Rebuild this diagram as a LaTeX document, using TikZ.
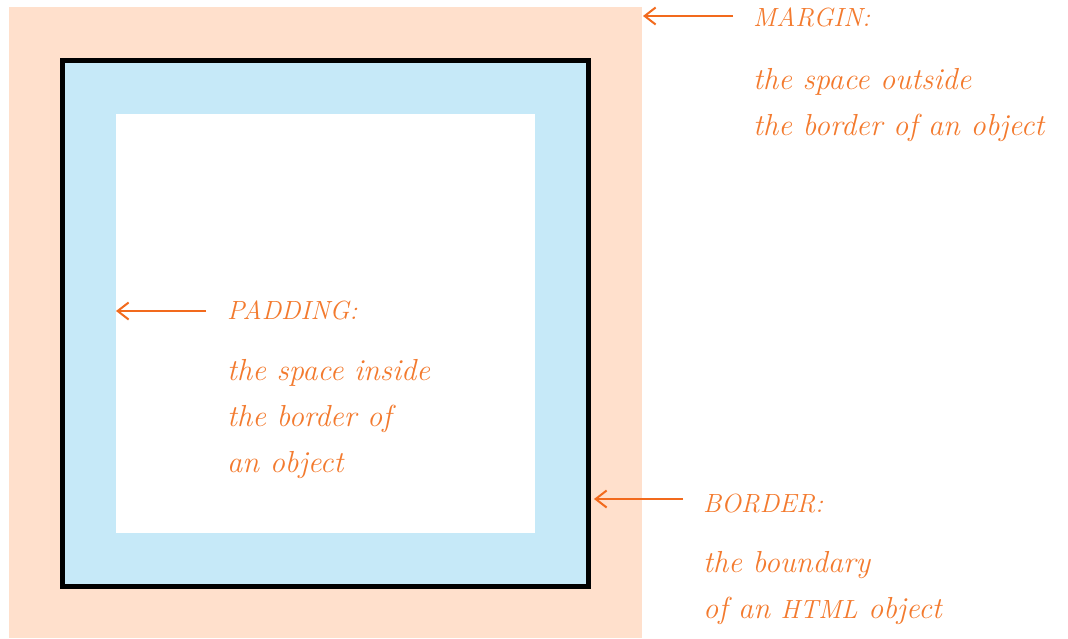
\documentclass[tikz,border=0pt]{standalone}
\usetikzlibrary{arrows.meta}
\definecolor{marginfill}{HTML}{FFE0CC}
\definecolor{paddingfill}{HTML}{C6E9F8}
\definecolor{notetext}{HTML}{F37A2E}
\definecolor{notearrow}{HTML}{F26A1D}
\tikzset{
  body/.style={anchor=base west, inner sep=0pt, text=notetext,
    font=\fontsize{30.4}{46}\selectfont\itshape},
  head/.style={anchor=base west, inner sep=0pt, text=notetext,
    font=\fontsize{26.3}{46}\selectfont\itshape},
  pointer/.style={draw=notearrow, line width=2pt,
    -{Straight Barb[length=11pt,width=17pt,line width=2pt]}}
}
\begin{document}
\begin{tikzpicture}[x=1pt,y=-1pt]
  \useasboundingbox (0,0) rectangle (1068,638);
  % margin, border and padding boxes
  \fill[marginfill] (9,7) rectangle (642,638);
  \filldraw[fill=paddingfill, draw=black, line width=5pt] (62.5,60.5) rectangle (588.5,586.5);
  \fill[white] (116,114) rectangle (535,533);

  % margin note
  \node[head] (mhead) at (753,26) {MARGIN:};
  \node[body] (mline1) at (753,89) {the space outside};
  \node[body] (mline2) at (753,135) {the border of an object};
  \coordinate (mfrom) at (733,16);
  \coordinate (mto) at (643,16);
  \draw[pointer] (mfrom) -- (mto);

  % padding note
  \node[head] (phead) at (227,319) {PADDING:};
  \node[body] (pline1) at (227,380) {the space inside};
  \node[body] (pline2) at (227,426) {the border of};
  \node[body] (pline3) at (227,472) {an object};
  \coordinate (pfrom) at (206,311);
  \coordinate (pto) at (116,311);
  \draw[pointer] (pfrom) -- (pto);

  % border note
  \node[head] (bhead) at (703,512) {BORDER:};
  \node[body] (bline1) at (703,572) {the boundary};
  \node[body] (bline2) at (703,618) {of an {\fontsize{26.3}{46}\selectfont HTML} object};
  \coordinate (bfrom) at (683,499);
  \coordinate (bto) at (594,499);
  \draw[pointer] (bfrom) -- (bto);
\end{tikzpicture}
\end{document}
